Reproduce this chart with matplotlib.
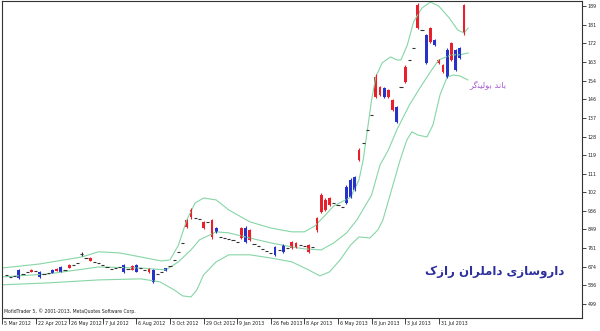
import matplotlib
matplotlib.use('Agg')
import matplotlib.pyplot as plt
import matplotlib.transforms as mtransforms
import numpy as np

plt.rcParams['font.family'] = ['DejaVu Sans']

# daily bars (bar index, open, high, low, close)
bar_idx = list(range(1, 111))
bar_open = [636, 626, 631, 659, 640, 650, 650, 654, 650, 640, 645, 659, 654, 673, 659, 668, 683, 692, 735, 715,
            701, 697, 692, 683, 673, 664, 668, 673, 683, 664, 659, 683, 668, 659, 650, 659, 640, 650, 668, 678,
            706, 744, 786, 861, 908, 903, 899, 856, 885, 814, 856, 814, 809, 805, 800, 790, 809, 856, 800, 781,
            772, 758, 748, 739, 767, 753, 776, 762, 762, 767, 776, 772, 744, 767, 847, 931, 941, 964, 974, 964,
            955, 1049, 1082, 1096, 1176, 1256, 1317, 1387, 1472, 1482, 1514, 1472, 1411, 1425, 1519, 1543, 1646, 1700, 1796, 1787,
            1764, 1730, 1740, 1632, 1590, 1693, 1646, 1693, 1702, 1773]
bar_high = [636, 626, 631, 664, 640, 650, 662, 654, 654, 640, 645, 662, 666, 676, 659, 686, 683, 692, 744, 715,
            718, 697, 692, 683, 673, 664, 668, 673, 687, 664, 680, 687, 668, 659, 668, 664, 640, 650, 670, 678,
            706, 744, 786, 900, 950, 903, 899, 890, 885, 900, 861, 814, 809, 805, 800, 790, 861, 866, 852, 781,
            772, 758, 748, 739, 772, 753, 781, 762, 795, 790, 776, 772, 781, 767, 908, 1020, 995, 1000, 974, 964,
            955, 1058, 1090, 1100, 1230, 1256, 1317, 1387, 1580, 1525, 1520, 1510, 1462, 1430, 1519, 1620, 1646, 1700, 1912, 1787,
            1770, 1800, 1745, 1650, 1626, 1700, 1730, 1698, 1706, 1910]
bar_low = [636, 626, 631, 617, 640, 650, 648, 654, 622, 640, 645, 643, 652, 647, 659, 666, 683, 692, 725, 715,
           699, 697, 692, 683, 673, 664, 668, 673, 645, 664, 657, 647, 668, 659, 645, 598, 640, 650, 652, 678,
           706, 744, 786, 856, 900, 903, 899, 852, 885, 805, 833, 814, 809, 805, 800, 790, 805, 786, 795, 781,
           772, 758, 748, 739, 725, 753, 740, 762, 758, 762, 776, 772, 740, 767, 838, 925, 935, 960, 974, 964,
           955, 970, 997, 1030, 1170, 1256, 1317, 1387, 1465, 1478, 1468, 1468, 1405, 1350, 1519, 1538, 1646, 1700, 1790, 1787,
           1625, 1725, 1712, 1628, 1586, 1560, 1640, 1594, 1650, 1765]
bar_close = [636, 626, 631, 621, 640, 650, 659, 654, 626, 640, 645, 645, 664, 650, 659, 683, 683, 692, 735, 715,
             715, 697, 692, 683, 673, 664, 668, 673, 650, 664, 678, 650, 668, 659, 664, 603, 640, 650, 654, 678,
             706, 744, 786, 894, 941, 903, 899, 885, 885, 894, 838, 814, 809, 805, 800, 790, 856, 790, 847, 781,
             772, 758, 748, 739, 730, 753, 744, 762, 790, 786, 776, 772, 776, 767, 903, 1011, 988, 997, 974, 964,
             955, 974, 1002, 1035, 1223, 1256, 1317, 1387, 1566, 1519, 1472, 1505, 1458, 1355, 1519, 1613, 1646, 1700, 1905, 1787,
             1632, 1796, 1716, 1646, 1622, 1566, 1726, 1599, 1655, 1905]

# Bollinger bands (bar index, price)
upper_x = [0, 9, 19, 23, 28, 33, 38, 40, 42, 44, 46, 48, 51, 54, 59, 64, 69, 72, 74.5, 77, 79, 81, 83, 85,
           86, 87, 88, 89, 90.5, 92.5, 94, 95, 96.5, 98, 100, 102, 104, 106.5, 108.5, 110, 111]
upper_y = [668, 687, 720, 744, 739, 720, 701, 706, 775, 894, 974, 997, 988, 941, 885, 856, 838, 838, 866, 917,
           960, 980, 1000, 1082, 1176, 1317, 1458, 1566, 1632, 1660, 1646, 1646, 1716, 1825, 1890, 1918, 1899,
           1843, 1787, 1773, 1796]
middle_x = [0, 11, 23, 33, 39, 42, 45, 47, 51, 54, 59, 64, 69, 72, 76, 79, 82, 84.5, 88, 90, 92, 94, 97,
            99.5, 102, 104, 107, 109, 111]
middle_y = [626, 640, 673, 668, 659, 697, 753, 800, 838, 833, 809, 786, 767, 758, 753, 786, 832, 894, 1011,
            1152, 1223, 1317, 1434, 1514, 1590, 1646, 1670, 1670, 1679]
lower_x = [0, 11, 23, 33, 37.6, 41, 43, 45, 46.4, 48, 51, 54, 59, 64, 69, 71, 73, 75.7, 78, 80.5, 83, 85,
           87.6, 89.5, 90.7, 92.4, 94.8, 96.4, 97.6, 99, 101.2, 102.6, 104.3, 106, 107.4, 109, 110.9]
lower_y = [589, 598, 612, 617, 603, 565, 537, 532, 565, 636, 697, 730, 730, 715, 697, 678, 659, 631, 650, 706,
           776, 814, 809, 847, 894, 1011, 1176, 1270, 1308, 1293, 1284, 1340, 1482, 1566, 1575, 1571, 1552]

price_ticks = [499, 586, 674, 761, 849, 936, 1024, 1111, 1199, 1286, 1374, 1461, 1549, 1636, 1724, 1811, 1899]
# the screenshot only shows the first three characters of each price label
price_labels = ['499', '586', '674', '761', '849', '936', '102', '111', '119', '128', '137', '146', '154',
                '163', '172', '181', '189']
date_ticks = [0, 8, 16, 24, 32, 40, 48, 56, 64, 72, 80, 88, 96, 104]
date_labels = ['5 Mar 2012', '22 Apr 2012', '26 May 2012', '7 Jul 2012', '6 Aug 2012', '3 Oct 2012',
               '29 Oct 2012', '9 Jan 2013', '26 Feb 2013', '8 Apr 2013', '6 May 2013', '8 Jun 2013',
               '3 Jul 2013', '31 Jul 2013']

# Persian labels, written in visual order with presentation forms (no shaping engine)
title_text = '\uFB8E\uFEAF\uFE8D\uFEAD \uFEE5\uFE8D\uFEAE\uFEE0\uFEE3\uFE8D\uFEA9 \uFBFC\uFEAF\uFE8E\uFEB3\uFEED\uFEAD\uFE8D\uFEA9'
band_text = '\uFEAE\uFB94\uFEE8\uFBFF\uFEDF\uFEEE\uFE91 \uFEAA\uFEE7\uFE8E\uFE91'

UP = '#e8202c'
DOWN = '#2633c9'
FLAT = '#333333'
BAND = '#86d6a6'

fig = plt.figure(figsize=(6, 3.31), dpi=100)
ax = fig.add_axes([2 / 600, 13 / 331, 580 / 600, 317 / 331])

ax.plot(upper_x, upper_y, color=BAND, lw=0.8)
ax.plot(middle_x, middle_y, color=BAND, lw=0.8)
ax.plot(lower_x, lower_y, color=BAND, lw=0.8)

o = np.array(bar_open)
h = np.array(bar_high)
l = np.array(bar_low)
c = np.array(bar_close)
x = np.array(bar_idx)
cols = np.where(c > o, UP, np.where(c < o, DOWN, FLAT))

ax.vlines(x, l, h, colors=cols, lw=0.8)
body = c != o
ax.bar(x[body], (c - o)[body], bottom=o[body], width=0.7, color=cols[body], lw=0)
flat = ~body
ax.hlines(c[flat], x[flat] - 0.4, x[flat] + 0.4, colors=FLAT, lw=0.8)

ax.set_xlim(0, 138.1)
ax.set_ylim(433, 1923)

ax.yaxis.tick_right()
ax.set_yticks(price_ticks)
ax.set_yticklabels(price_labels)
ax.tick_params(axis='y', direction='out', length=3, width=0.6, labelsize=3.4, pad=1, colors='#222222')

ax.set_xticks(date_ticks)
ax.set_xticklabels([''] * len(date_ticks))
ax.tick_params(axis='x', direction='out', length=4, width=0.6, colors='#222222')
tr = mtransforms.blended_transform_factory(ax.transData, ax.transAxes)
for t, lab in zip(date_ticks, date_labels):
    ax.text(t + 0.5, -0.008, lab, transform=tr, ha='left', va='top', fontsize=3.4, color='#222222')

for s in ax.spines.values():
    s.set_color('#333333')
    s.set_linewidth(0.8)

ax.text(0.003, 0.022, 'MofidTrader 5, \u00a9 2001-2013, MetaQuotes Software Corp.', transform=ax.transAxes,
        ha='left', va='center', fontsize=3.3, color='#222222')

ax.text(117.4, 650, title_text, ha='center', va='center', fontsize=8.5, fontweight='bold', color='#2d2f9e')
ax.text(115.7, 1524, band_text, ha='center', va='center', fontsize=6, color='#a55ccf')

fig.savefig('out.png', dpi=100)
